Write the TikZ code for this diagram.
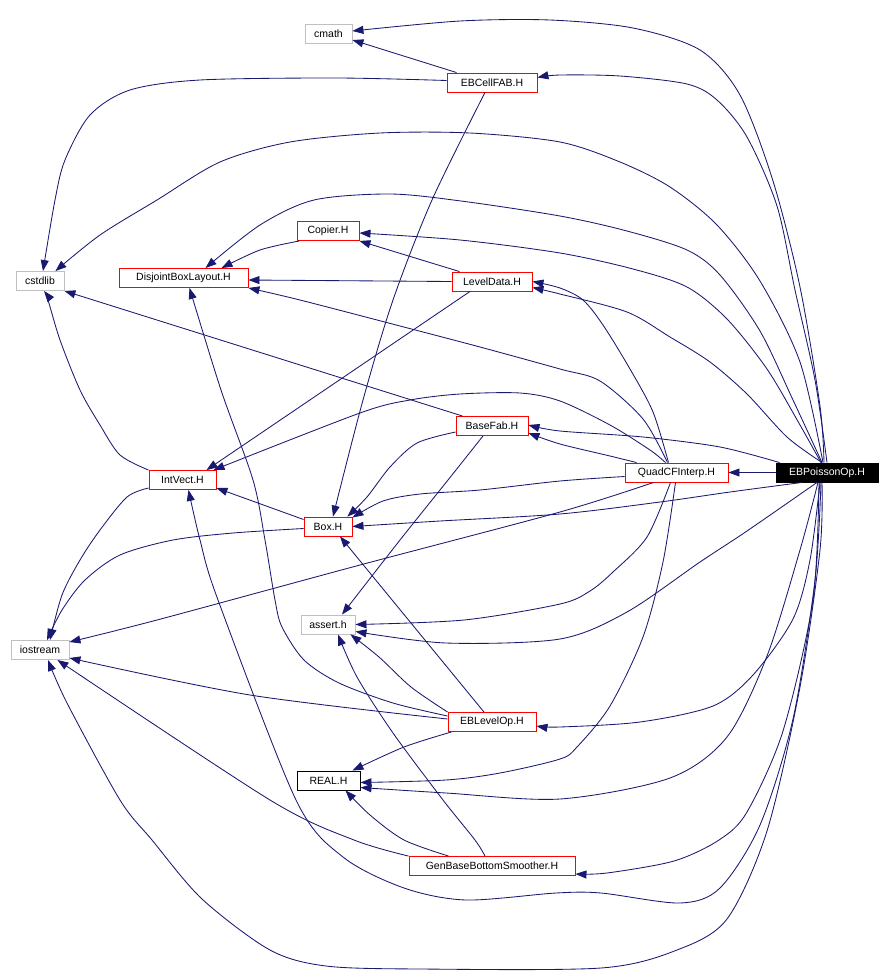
\documentclass[tikz,border=0pt]{standalone}
\usepackage{fontspec}
\setmainfont{Liberation Sans}
\usetikzlibrary{arrows.meta}
\definecolor{edgeblue}{HTML}{191970}
\definecolor{sysgray}{HTML}{BFBFBF}
\begin{document}
\begin{tikzpicture}[x=1pt,y=-1pt,
  nd/.style={draw, rectangle, inner sep=0pt, minimum height=19pt, fill=white,
    font=\fontsize{10.5}{12}\selectfont, line width=0.9pt},
  docnode/.style={nd, draw=red},
  sysnode/.style={nd, draw=sysgray},
  plainnode/.style={nd, draw=black},
  rootnode/.style={nd, draw=black, fill=black, text=white},
  dep/.style={draw=edgeblue, line width=0.85pt, -{Triangle[length=11pt,width=8pt]}},
]
\useasboundingbox (0,0) rectangle (890,978);

\node[sysnode, minimum width=47pt] (cmath) at (328.5,34) {cmath};
\node[docnode, minimum width=90pt] (ebcell) at (492,82.5) {EBCellFAB.H};
\node[docnode, minimum width=62pt] (copier) at (328,231) {Copier.H};
\node[sysnode, minimum width=48pt] (cstdlib) at (40,281) {cstdlib};
\node[docnode, minimum width=129pt] (dbl) at (183.5,278) {DisjointBoxLayout.H};
\node[docnode, minimum width=80pt] (leveldata) at (492,281.5) {LevelData.H};
\node[docnode, minimum width=72pt] (basefab) at (492,426) {BaseFab.H};
\node[docnode, minimum width=67pt] (intvect) at (182.5,480) {IntVect.H};
\node[docnode, minimum width=103pt] (quad) at (676.5,472.5) {QuadCFInterp.H};
\node[rootnode, minimum width=102pt] (ebp) at (827,472.5) {EBPoissonOp.H};
\node[docnode, minimum width=48pt] (box) at (328,526.5) {Box.H};
\node[sysnode, minimum width=54pt] (assert) at (328,624.5) {assert.h};
\node[sysnode, minimum width=58pt] (iostream) at (40,650) {iostream};
\node[docnode, minimum width=88pt] (eblevel) at (492,722) {EBLevelOp.H};
\node[plainnode, minimum width=63pt] (real) at (328.5,780.5) {REAL.H};
\node[docnode, minimum width=166pt] (genbase) at (492,866) {GenBaseBottomSmoother.H};

% EBPoissonOp.H
\draw[dep] (ebp.west) -- (quad.east);
\draw[dep] plot[smooth] coordinates {([xshift=-3pt]ebp.north) (820,406) (800,287) (773,181) (740,95) (700,50) (633,28) (550,20) (460,21) ([yshift=3pt]cmath.east)};
\draw[dep] plot[smooth] coordinates {(ebp.north) (815,380) (795,290) (777,206) (747,137) (717,100) (687,84) (620,76) (560,75) ([yshift=5pt]ebcell.east)};
\draw[dep] plot[smooth] coordinates {([xshift=-4pt]ebp.north) (800,362) (760,281) (717,225) (670,187) (620,162) (560,142) (470,133) (380,133) (290,142) (220,162) (157,200) (100,235) ([xshift=-9pt]cstdlib.north east)};
\draw[dep] plot[smooth] coordinates {([xshift=-5pt]ebp.north) (793,400) (760,331) (720,275) (687,250) (627,231) (560,216) (461,201) (390,194) (314,200) (260,225) ([xshift=22pt]dbl.north)};
\draw[dep] plot[smooth] coordinates {([xshift=-6pt]ebp.north) (800,425) (767,369) (727,319) (687,287) (633,269) (560,253) (460,240) ([yshift=-2pt]copier.east)};
\draw[dep] plot[smooth] coordinates {([xshift=-5pt]ebp.north) (787,437) (747,394) (710,362) (670,337) (627,312) (560,294) ([yshift=-6pt]leveldata.east)};
\draw[dep] plot[smooth] coordinates {([xshift=4pt]ebp.north west) (720,447) (643,437) (560,431) ([yshift=1pt]basefab.east)};
\draw[dep] plot[smooth] coordinates {([xshift=-25pt]ebp.south) (730,492) (660,502) (560,514) (440,521) (box.east)};
\draw[dep] plot[smooth] coordinates {([xshift=-10pt]ebp.south) (747,531) (700,562) (627,612) (560,639) (446,643) ([yshift=-7pt]assert.east)};
\draw[dep] plot[smooth] coordinates {([xshift=-7pt]ebp.south) (810,560) (793,619) (753,675) (713,706) (640,722) (560,727) ([yshift=-4pt]eblevel.east)};
\draw[dep] plot[smooth] coordinates {([xshift=-9pt]ebp.south) (800,550) (767,656) (727,737) (670,778) (560,799) (446,793) ([yshift=-7pt]real.east)};
\draw[dep] plot[smooth] coordinates {([xshift=-8pt]ebp.south) (813,600) (783,731) (747,812) (719,840) (674,861) (607,873) ([yshift=-8pt]genbase.east)};
\draw[dep] plot[smooth] coordinates {([xshift=-6pt]ebp.south) (815,580) (793,719) (760,825) (720,888) (680,903) (601,893) (556,893) (466,900) (404,888) (343,857) (296,800) (218,600) (200,540) ([xshift=6pt]intvect.south)};
\draw[dep] plot[smooth] coordinates {([xshift=-5pt]ebp.south) (820,550) (800,687) (767,831) (727,919) (677,950) (601,968) (420,969) (326,966) (270,950) (202,899) (152,840) (120,800) (67,703) ([xshift=8pt]iostream.south)};

% QuadCFInterp.H
\draw[dep] plot[smooth] coordinates {([xshift=-8pt]quad.north) (653,412) (630,369) (603,325) (583,300) (560,288) (leveldata.east)};
\draw[dep] plot[smooth] coordinates {([xshift=-9pt]quad.north) (643,419) (600,381) (560,369) (480,347) (400,326) (300,300) (dbl.south east)};
\draw[dep] plot[smooth] coordinates {([xshift=-11pt]quad.north) (650,450) (610,425) (560,401) (520,393) (460,394) (410,400) (360,413) ([xshift=31pt]intvect.north)};
\draw[dep] plot[smooth] coordinates {([xshift=12pt]quad.north west) (610,456) (560,444) ([yshift=-7pt]basefab.east)};
\draw[dep] plot[smooth] coordinates {([yshift=-4pt]quad.west) (560,481) (480,490) (420,494) (383,501) ([yshift=-1pt]box.north east)};
\draw[dep] plot[smooth] coordinates {([xshift=-23pt]quad.south) (560,512) (360,565) (157,620) ([yshift=8pt]iostream.east)};
\draw[dep] plot[smooth] coordinates {([xshift=-6pt]quad.south) (647,537) (613,572) (590,591) (560,604) (464,620) (assert.east)};
\draw[dep] plot[smooth] coordinates {([xshift=-1pt]quad.south) (663,562) (643,637) (610,706) (577,747) (560,759) (500,773) (446,780) ([yshift=-2pt]real.east)};

% EBCellFAB.H
\draw[dep] ([xshift=10pt]ebcell.north west) -- ([yshift=-6pt]cmath.east);
\draw[dep] plot[smooth] coordinates {([yshift=2pt]ebcell.west) (337,78) (200,80) (130,90) (90,115) (65,160) (55,200) ([xshift=3pt]cstdlib.north)};
\draw[dep] plot[smooth] coordinates {([xshift=-7pt]ebcell.south) (432,200) (393,300) (363,400) ([xshift=5pt]box.north)};

% Copier.H, LevelData.H
\draw[dep] plot[smooth] coordinates {([xshift=3pt]copier.south west) (260,250) ([xshift=38pt]dbl.north)};
\draw[dep] ([xshift=8pt]leveldata.north west) -- (copier.south east);
\draw[dep] (leveldata.west) -- ([yshift=-2pt]dbl.east);
\draw[dep] ([xshift=-22pt]leveldata.south) -- ([xshift=24pt]intvect.north);

% BaseFab.H
\draw[dep] ([xshift=7pt]basefab.north west) -- (cstdlib.south east);
\draw[dep] plot[smooth] coordinates {([yshift=-6pt]basefab.west) (417,443) (390,467) (367,497) ([xshift=-5pt]box.north east)};
\draw[dep] plot[smooth] coordinates {([xshift=-9pt]basefab.south) (448,480) (400,540) ([xshift=14pt]assert.north)};

% IntVect.H, Box.H
\draw[dep] plot[smooth] coordinates {(intvect.north west) (120,455) (100,425) (80,390) (60,340) (48,300) ([xshift=4pt]cstdlib.south)};
\draw[dep] plot[smooth] coordinates {([yshift=-8pt]intvect.west) (127,497) (100,530) (80,560) (62,595) ([xshift=10pt]iostream.north)};
\draw[dep] ([yshift=7pt]box.west) -- ([yshift=-8pt]intvect.east);
\draw[dep] plot[smooth] coordinates {([yshift=-2pt]box.west) (233,533) (173,540) (120,555) (85,580) (62,610) ([xshift=7pt]iostream.north)};

% EBLevelOp.H
\draw[dep] plot[smooth] coordinates {([yshift=6pt]eblevel.west) (393,703) (339,683) (304,660) (282,627) (275,600) (265,540) (253,480) (221,390) ([xshift=6pt]dbl.south)};
\draw[dep] plot[smooth] coordinates {(eblevel.north west) (411,687) (379,657) ([xshift=-5pt]assert.south east)};
\draw[dep] plot[smooth] coordinates {([yshift=3pt]eblevel.west) (250,695) ([yshift=-8pt]iostream.east)};
\draw[dep] plot[smooth] coordinates {([xshift=4pt]eblevel.south west) (404,747) ([xshift=-8pt]real.north east)};
\draw[dep] ([xshift=-8pt]eblevel.north) -- ([xshift=12pt]box.south);

% GenBaseBottomSmoother.H
\draw[dep] plot[smooth] coordinates {(genbase.north west) (354,840) (270,800) ([xshift=-12pt]iostream.south east)};
\draw[dep] plot[smooth] coordinates {([xshift=40pt]genbase.north west) (404,840) (370,815) ([xshift=17pt]real.south)};
\draw[dep] plot[smooth] coordinates {([xshift=-7pt]genbase.north) (475,840) (443,800) (393,733) (357,677) ([xshift=10pt]assert.south)};
\end{tikzpicture}
\end{document}
